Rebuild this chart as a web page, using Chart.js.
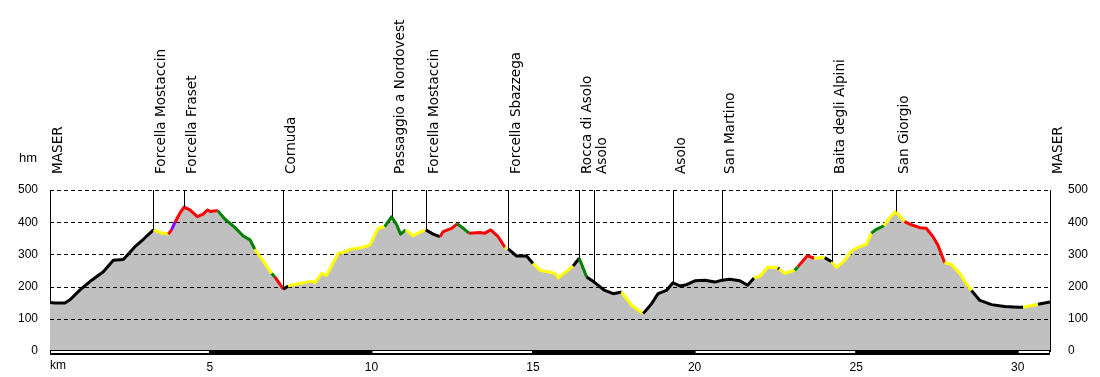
<!DOCTYPE html>
<html>
<head>
<meta charset="utf-8">
<title>Profilo altimetrico</title>
<script src="https://cdn.jsdelivr.net/npm/chart.js@4.4.1/dist/chart.umd.min.js"></script>
<style>
    html, body { margin: 0; padding: 0; background: #fff; }
    #wrap { width: 1100px; height: 377px; }
</style>
</head>
<body>
<div id="wrap"><canvas id="profileChart" width="1100" height="377"></canvas></div>
<script>
// --- Data ---
const distanceKm = [
    0.05, 0.20, 0.51, 0.67, 0.98, 1.34, 1.70, 2.01, 2.32, 2.68,
    2.94, 3.25, 3.45, 3.71, 3.81, 3.92, 4.07, 4.20, 4.38, 4.61,
    4.79, 4.92, 5.02, 5.24, 5.46, 5.77, 6.03, 6.24, 6.39, 6.70,
    6.91, 7.01, 7.27, 7.42, 7.73, 8.15, 8.25, 8.46, 8.61, 8.97,
    9.23, 9.33, 9.69, 9.95, 10.10, 10.21, 10.41, 10.62, 10.78, 10.90,
    11.06, 11.29, 11.50, 11.68, 11.91, 12.12, 12.22, 12.48, 12.65, 12.84,
    13.02, 13.35, 13.51, 13.69, 13.92, 14.13, 14.23, 14.49, 14.80, 15.00,
    15.21, 15.47, 15.68, 15.78, 15.88, 16.14, 16.24, 16.43, 16.66, 16.89,
    17.22, 17.48, 17.74, 18.05, 18.41, 18.67, 18.87, 19.13, 19.33, 19.54,
    19.75, 20.01, 20.32, 20.63, 20.85, 21.09, 21.40, 21.64, 21.84, 22.02,
    22.27, 22.58, 22.62, 22.79, 22.94, 23.10, 23.20, 23.49, 23.70, 24.03,
    24.24, 24.39, 24.65, 24.85, 25.06, 25.32, 25.47, 25.63, 25.86, 26.07,
    26.22, 26.50, 26.71, 26.97, 27.17, 27.38, 27.53, 27.74, 27.95, 28.21,
    28.41, 28.57, 28.83, 29.19, 29.60, 30.01, 30.17, 30.63, 31.00
];
const elevationM = [
    151, 149, 149, 159, 190, 220, 246, 282, 284, 324,
    347, 376, 368, 363, 376, 400, 428, 447, 438, 417,
    425, 438, 433, 436, 410, 384, 357, 345, 316, 272,
    241, 230, 192, 202, 209, 217, 212, 241, 235, 303,
    310, 316, 321, 329, 360, 381, 386, 417, 392, 363,
    376, 358, 369, 376, 363, 355, 371, 381, 395, 381,
    366, 368, 366, 376, 355, 322, 317, 295, 295, 272,
    251, 246, 241, 227, 235, 256, 264, 288, 230, 214,
    188, 178, 183, 142, 116, 147, 178, 188, 212, 202,
    206, 218, 220, 214, 220, 223, 218, 204, 227, 232,
    261, 258, 255, 241, 246, 251, 262, 296, 288, 290,
    277, 259, 282, 310, 322, 331, 366, 378, 389, 418,
    433, 402, 392, 383, 381, 355, 329, 274, 269, 241,
    209, 188, 157, 144, 138, 136, 136, 145, 152
];
// trail class of the stretch that starts at each point (0..4)
const trailClass = [
    0, 0, 0, 0, 0, 0, 0, 0, 0, 0,
    0, 1, 1, 3, 4, 3, 3, 3, 3, 3,
    3, 3, 3, 2, 2, 2, 2, 2, 1, 1,
    2, 3, 0, 1, 1, 1, 1, 1, 1, 1,
    1, 1, 1, 1, 1, 1, 2, 2, 2, 2,
    1, 1, 1, 0, 0, 3, 3, 3, 2, 2,
    3, 3, 3, 3, 3, 1, 0, 0, 0, 1,
    1, 1, 1, 1, 1, 1, 0, 2, 0, 0,
    0, 0, 1, 1, 0, 0, 0, 0, 0, 0,
    0, 0, 0, 0, 0, 0, 0, 0, 1, 1,
    1, 0, 1, 1, 1, 2, 3, 3, 1, 0,
    1, 1, 1, 1, 1, 1, 2, 2, 1, 1,
    1, 3, 3, 3, 3, 3, 3, 1, 1, 1,
    1, 0, 0, 0, 0, 0, 1, 0, 0
];
const waypointNames = [
    'MASER', 'Forcella Mostaccin', 'Forcella Fraset', 'Cornuda', 'Passaggio a Nordovest',
    'Forcella Mostaccin', 'Forcella Sbazzega', 'Rocca di Asolo', 'Asolo', 'Asolo',
    'San Martino', 'Baita degli Alpini', 'San Giorgio', 'MASER'
];
const waypointKm = [0.05, 3.25, 4.20, 7.27, 10.62, 11.68, 14.23, 16.43, 16.89, 19.33, 20.85, 24.24, 26.22, 31.00];
const elevationTicks = [0, 100, 200, 300, 400, 500];
const distanceStripes = [0, 5, 10, 15, 20, 25, 30, 31];

// --- Styles ---
const classColors = ['#000000', '#ffff00', '#008000', '#ff0000', '#8000ff'];
const tickFont = { family: '"Liberation Sans", Arial, sans-serif', size: 12 };
const labelFont = '13.6px "DejaVu Sans", Verdana, sans-serif';

// --- Helpers ---
const elevationAt = (km) => {
    for (let i = 1; i < distanceKm.length; i++) {
        if (km <= distanceKm[i]) {
            const t = (km - distanceKm[i - 1]) / (distanceKm[i] - distanceKm[i - 1]);
            return elevationM[i - 1] + t * (elevationM[i] - elevationM[i - 1]);
        }
    }
    return elevationM[elevationM.length - 1];
};

const points = distanceKm.map((km, i) => ({ x: km, y: elevationM[i] }));

const decorPlugin = {
    id: 'decor',
    // dashed elevation grid drawn over the grey fill, under the coloured line
    afterDatasetDraw(chart, args) {
        if (args.index !== 0) return;
        const { ctx, chartArea, scales: { y } } = chart;
        ctx.save();
        ctx.strokeStyle = '#000';
        ctx.lineWidth = 1;
        ctx.setLineDash([4, 3]);
        elevationTicks.forEach(v => {
            if (v === 0) return;
            const py = Math.round(y.getPixelForValue(v)) + 0.5;
            ctx.beginPath();
            ctx.moveTo(chartArea.left, py);
            ctx.lineTo(chartArea.right, py);
            ctx.stroke();
        });
        ctx.restore();
    },
    afterDatasetsDraw(chart) {
        const { ctx, chartArea, scales: { x, y } } = chart;
        ctx.save();
        // waypoint markers
        waypointKm.forEach((km, i) => {
            const px = Math.round(x.getPixelForValue(km)) + 0.5;
            const py = y.getPixelForValue(elevationAt(km));
            ctx.strokeStyle = '#000';
            ctx.lineWidth = 1;
            ctx.beginPath();
            ctx.moveTo(px, chartArea.top);
            ctx.lineTo(px, py);
            ctx.stroke();

            ctx.save();
            ctx.translate(Math.min(px, chartArea.right) + 11.5, 174);
            ctx.rotate(-Math.PI / 2);
            ctx.font = labelFont;
            ctx.fillStyle = '#000';
            ctx.textAlign = 'left';
            ctx.textBaseline = 'alphabetic';
            ctx.fillText(waypointNames[i], 0, 0);
            ctx.restore();
        });

        // distance bar along the bottom
        const top = chartArea.bottom - 1;
        ctx.fillStyle = '#000';
        ctx.fillRect(chartArea.left, top, chartArea.right - chartArea.left, 5);
        ctx.fillStyle = '#fff';
        for (let i = 0; i < distanceStripes.length - 1; i += 2) {
            const x0 = Math.max(x.getPixelForValue(distanceStripes[i]), chartArea.left) + 1;
            const x1 = Math.min(x.getPixelForValue(distanceStripes[i + 1]), chartArea.right) - 1;
            ctx.fillRect(x0, top + 1, x1 - x0, 2);
        }

        // unit labels
        ctx.fillStyle = '#000';
        ctx.font = '13px "Liberation Sans", Arial, sans-serif';
        ctx.textBaseline = 'middle';
        ctx.textAlign = 'left';
        ctx.fillText('hm', 19, 158);
        ctx.font = '12px "Liberation Sans", Arial, sans-serif';
        ctx.fillText('km', chartArea.left, 366);
        ctx.restore();
    }
};

const ctx = document.getElementById('profileChart').getContext('2d');
const profileChart = new Chart(ctx, {
    type: 'line',
    data: {
        datasets: [
            {
                // grey terrain fill
                data: points,
                fill: 'origin',
                backgroundColor: '#c0c0c0',
                borderWidth: 0,
                pointRadius: 0,
                order: 2
            },
            {
                // track coloured by class
                data: points,
                fill: false,
                borderWidth: 3,
                borderJoinStyle: 'round',
                pointRadius: 0,
                segment: { borderColor: c => classColors[trailClass[c.p0DataIndex]] },
                order: 1
            }
        ]
    },
    options: {
        responsive: false,
        animation: false,
        devicePixelRatio: 1,
        layout: { padding: { top: 190, left: 0, right: 0, bottom: 0 } },
        plugins: { legend: { display: false }, tooltip: { enabled: false } },
        scales: {
            x: {
                type: 'linear',
                min: 0.05,
                max: 31.0,
                grid: { display: false, drawTicks: false },
                border: { display: false },
                ticks: { stepSize: 5, includeBounds: false, autoSkip: false, maxRotation: 0, padding: 9, color: '#000', font: tickFont },
                afterFit: s => { s.height = 26; }
            },
            y: {
                position: 'left',
                min: 0,
                max: 500,
                grid: { display: false, drawTicks: false },
                border: { display: true, color: '#000', width: 1 },
                ticks: { stepSize: 100, padding: 12, color: '#000', font: tickFont },
                afterFit: s => { s.width = 50; }
            },
            y2: {
                position: 'right',
                min: 0,
                max: 500,
                grid: { display: false, drawTicks: false },
                border: { display: true, color: '#000', width: 1 },
                ticks: { stepSize: 100, padding: 18, color: '#000', font: tickFont },
                afterFit: s => { s.width = 50; }
            }
        }
    },
    plugins: [decorPlugin]
});
</script>
</body>
</html>
